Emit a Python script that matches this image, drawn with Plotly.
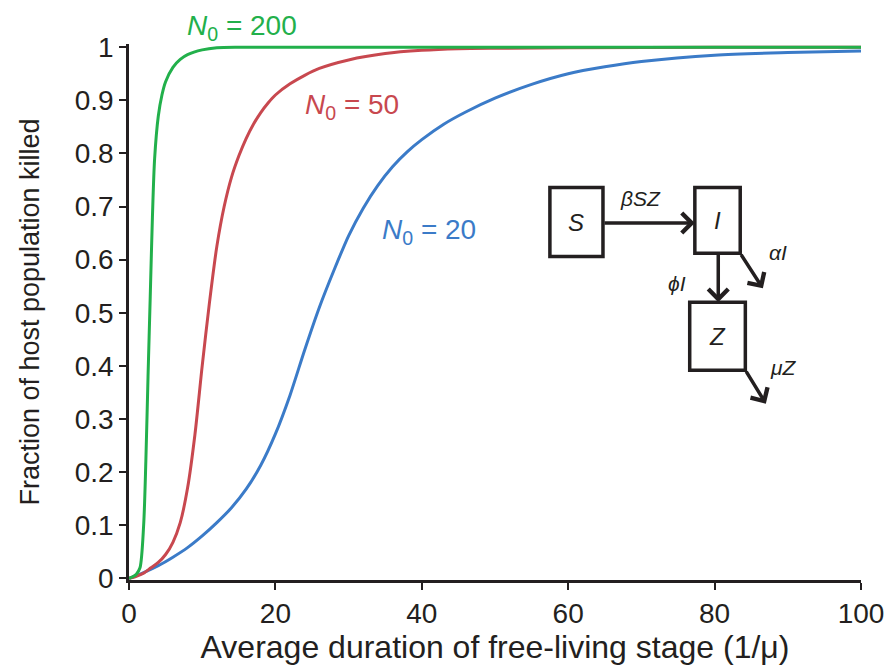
import plotly.graph_objects as go

# ---- data ----
x_n200 = [0, 0.5, 1, 1.5, 2, 2.3, 2.6, 2.9, 3.2, 3.5, 4, 4.5, 5, 6, 7, 8, 10, 12, 15, 20, 40, 60, 80, 100]
y_n200 = [0, 0.003, 0.008, 0.02, 0.1, 0.22, 0.38, 0.53, 0.68, 0.79, 0.87, 0.91, 0.935, 0.962, 0.977, 0.986, 0.995, 0.999, 1, 1, 1, 1, 1, 1]

x_n50 = [0, 1, 2, 3, 4, 5, 6, 7, 8, 9, 10, 11, 12, 13, 14, 15, 16, 17, 18, 19, 20, 22, 24, 26, 30, 35, 40, 45, 50, 60, 80, 100]
y_n50 = [0, 0.004, 0.01, 0.02, 0.03, 0.045, 0.068, 0.105, 0.17, 0.27, 0.4, 0.52, 0.625, 0.7, 0.755, 0.795, 0.828, 0.855, 0.877, 0.895, 0.91, 0.931, 0.947, 0.96, 0.976, 0.988, 0.994, 0.997, 0.998, 0.999, 1, 1]

x_n20 = [0, 2, 4, 6, 8, 10, 12, 14, 16, 18, 20, 22, 24, 26, 28, 30, 32, 34, 36, 38, 40, 43, 46, 50, 55, 60, 65, 70, 80, 90, 100]
y_n20 = [0, 0.011, 0.024, 0.04, 0.058, 0.08, 0.105, 0.133, 0.168, 0.213, 0.272, 0.345, 0.43, 0.51, 0.58, 0.645, 0.697, 0.74, 0.775, 0.803, 0.826, 0.855, 0.878, 0.904, 0.93, 0.95, 0.963, 0.973, 0.985, 0.99, 0.993]

x_ticks = [0, 20, 40, 60, 80, 100]
y_ticks = [0, 0.1, 0.2, 0.3, 0.4, 0.5, 0.6, 0.7, 0.8, 0.9, 1]
y_tick_labels = ["0", "0.1", "0.2", "0.3", "0.4", "0.5", "0.6", "0.7", "0.8", "0.9", "1"]

GREEN = "#22b04b"
RED = "#c8484f"
BLUE = "#3b7bc8"
INK = "#231f20"
FONT = "Liberation Sans, Arial, sans-serif"

fig = go.Figure()
for xs, ys, col, name in [(x_n20, y_n20, BLUE, "N0 = 20"),
                          (x_n50, y_n50, RED, "N0 = 50"),
                          (x_n200, y_n200, GREEN, "N0 = 200")]:
    fig.add_trace(go.Scatter(x=xs, y=ys, mode="lines", name=name,
                             line=dict(color=col, width=3, shape="spline", smoothing=0.8),
                             showlegend=False))

# curve labels (paper y so the top one can sit above the axis range)
for txt, xx, yy, col in [("<i>N</i><sub>0</sub> = 200", 7.6, 1.030, GREEN),
                         ("<i>N</i><sub>0</sub> = 50", 23.8, 0.884, RED),
                         ("<i>N</i><sub>0</sub> = 20", 34.3, 0.651, BLUE)]:
    fig.add_annotation(x=xx, y=yy, xref="x", yref="paper", text=txt, showarrow=False,
                       xanchor="left", yanchor="middle",
                       font=dict(family=FONT, size=28, color=col))

# compartment diagram boxes
for x0, x1, y0, y1 in [(57.5, 64.75, 0.606, 0.736),
                       (77.3, 83.5, 0.612, 0.736),
                       (76.6, 84.2, 0.392, 0.520)]:
    fig.add_shape(type="rect", xref="x", yref="y", x0=x0, x1=x1, y0=y0, y1=y1,
                  line=dict(color=INK, width=3.5), fillcolor="white")

# arrows
for (xt, yt), (xh, yh) in [((64.75, 0.669), (77.3, 0.669)),
                           ((80.5, 0.612), (80.5, 0.520)),
                           ((83.5, 0.612), (86.6, 0.546)),
                           ((84.2, 0.392), (87.0, 0.329))]:
    fig.add_annotation(x=xh, y=yh, ax=xt, ay=yt, xref="x", yref="y", axref="x", ayref="y",
                       text="", showarrow=True, arrowhead=4, arrowsize=1.1,
                       arrowwidth=3.5, arrowcolor=INK)

# diagram text
for txt, xx, yy, sz in [("<i>S</i>", 61.1, 0.670, 24),
                        ("<i>I</i>", 80.4, 0.674, 24),
                        ("<i>Z</i>", 80.4, 0.456, 24),
                        ("<i>βSZ</i>", 69.9, 0.716, 21),
                        ("<i>ϕI</i>", 74.9, 0.556, 21),
                        ("<i>αI</i>", 88.6, 0.614, 21),
                        ("<i>μZ</i>", 89.4, 0.397, 21)]:
    fig.add_annotation(x=xx, y=yy, xref="x", yref="y", text=txt, showarrow=False,
                       xanchor="center", yanchor="middle",
                       font=dict(family=FONT, size=sz, color=INK))

# the page body adds an 8px offset, so the figure is 8px smaller than the window
fig.update_layout(
    width=887, height=663,
    margin=dict(l=121, r=34, t=36, b=91, autoexpand=False),
    paper_bgcolor="white", plot_bgcolor="white",
    font=dict(family=FONT, color=INK),
    xaxis=dict(range=[0, 100], tickvals=x_ticks, ticks="outside", ticklen=7, tickwidth=2,
               tickcolor=INK, showline=True, linecolor=INK, linewidth=2.5, showgrid=False,
               zeroline=False, tickfont=dict(size=28, color=INK), automargin=False,
               title=dict(text="Average duration of free-living stage (1/μ)",
                          font=dict(size=32, color=INK), standoff=8)),
    yaxis=dict(range=[-0.003, 1.006], tickvals=y_ticks, ticktext=y_tick_labels,
               ticks="outside", ticklen=7, tickwidth=2, tickcolor=INK,
               showline=True, linecolor=INK, linewidth=2.5, showgrid=False, zeroline=False,
               tickfont=dict(size=28, color=INK), automargin=False,
               title=dict(text="Fraction of host population killed",
                          font=dict(size=27, color=INK), standoff=28)),
)

fig.write_html("out.html")
